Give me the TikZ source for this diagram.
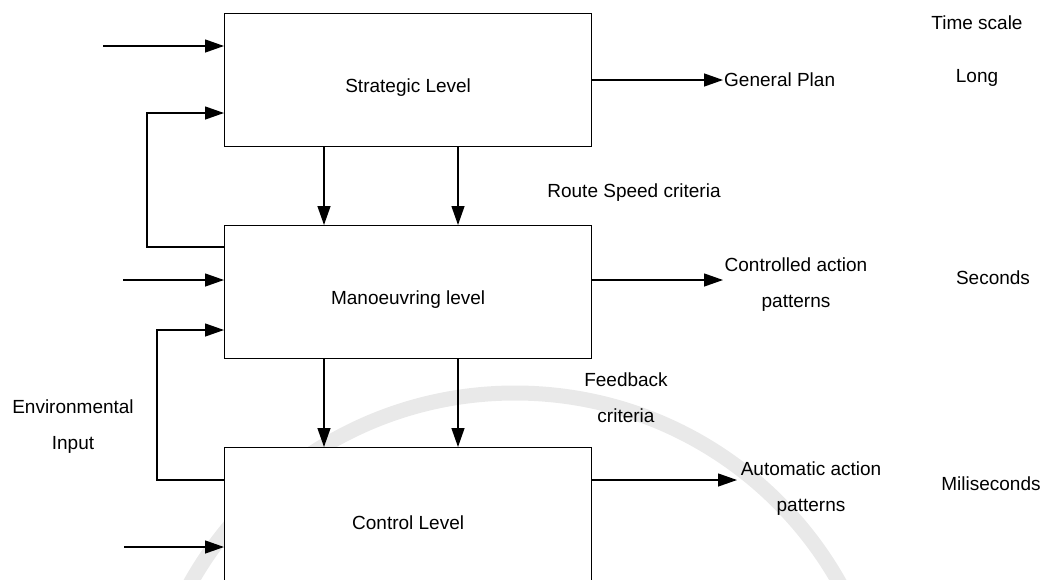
\documentclass[tikz,border=0pt]{standalone}
\usepackage{fontspec}
\setmainfont{Liberation Sans}
\usetikzlibrary{arrows.meta}

\begin{document}
\begin{tikzpicture}[x=1pt,y=-1pt,
  levelbox/.style={draw=black, line width=1.3pt, fill=white, rectangle,
    minimum width=367pt, inner sep=0pt, anchor=north west},
  lbl/.style={font=\fontsize{19}{36}\selectfont, align=center, inner sep=0pt, text=black},
  arr/.style={line width=1.3pt, -{Triangle[length=19pt,width=13pt]}},
  wire/.style={line width=1.3pt}
]
\useasboundingbox (0,0) rectangle (1045,579);
\clip (0,0) rectangle (1045,579);

% faint seal in the background
\draw[line width=15pt, gray!17] (515,765) circle[radius=372];

% the three levels
\node[levelbox, minimum height=133pt] (strat) at (224,13) {};
\node[levelbox, minimum height=133pt] (man)   at (224,225) {};
\node[levelbox, minimum height=136pt] (ctrl)  at (224,447) {};

\node[lbl] (stratT) at ([yshift=-7pt]strat.center) {Strategic Level};
\node[lbl] (manT)   at ([yshift=-7pt]man.center)   {Manoeuvring level};
\node[lbl] (ctrlT)  at ([yshift=-7pt]ctrl.center)  {Control Level};

% free ends of the input and output arrows
\coordinate (in1) at (103,46);
\coordinate (in2) at (123,280);
\coordinate (in3) at (124,547);
\coordinate (out1) at (723,80);
\coordinate (out2) at (723,280);
\coordinate (out3) at (737,480);
\coordinate (fb1) at (147,247);
\coordinate (fb1top) at (147,113);
\coordinate (fb2) at (157,480);
\coordinate (fb2top) at (157,330);

% inputs from the left
\draw[arr] (in1) -- (in1 -| strat.west);
\draw[arr] (in2) -- (in2 -| man.west);
\draw[arr] (in3) -- (in3 -| ctrl.west);

% feedback loops on the left
\draw[arr] (fb1 -| man.west) -- (fb1) -- (fb1top) -- (fb1top -| strat.west);
\draw[arr] (fb2 -| ctrl.west) -- (fb2) -- (fb2top) -- (fb2top -| man.west);

% downward links between levels
\draw[arr] (strat.south -| 324,0) -- (man.north -| 324,0);
\draw[arr] (strat.south -| 458,0) -- (man.north -| 458,0);
\draw[arr] (man.south -| 324,0) -- (ctrl.north -| 324,0);
\draw[arr] (man.south -| 458,0) -- (ctrl.north -| 458,0);

% outputs to the right
\draw[arr] (out1 -| strat.east) -- (out1);
\draw[arr] (out2 -| man.east) -- (out2);
\draw[arr] (out3 -| ctrl.east) -- (out3);

% labels
\node[lbl, anchor=west] (gp) at ([xshift=1pt]out1) {General Plan};
\node[lbl] (rsc) at (634,193) {Route Speed criteria};
\node[lbl] (cap) at (796,285) {Controlled action\\patterns};
\node[lbl] (fbc) at (626,398) {Feedback\\criteria};
\node[lbl] (aap) at (811,489) {Automatic action\\patterns};
\node[lbl] (env) at (73,427) {Environmental\\Input};

\node[lbl] (ts)  at (977,23)  {Time scale};
\node[lbl] (lg)  at (977,78)  {Long};
\node[lbl] (sec) at (993,278) {Seconds};
\node[lbl] (ms)  at (991,484) {Miliseconds};
\end{tikzpicture}
\end{document}
